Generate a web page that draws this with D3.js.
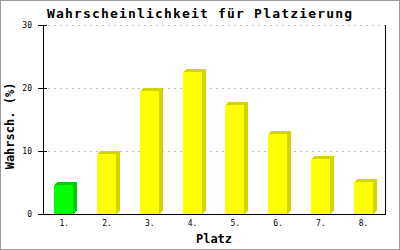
<!DOCTYPE html>
<html>
<head>
<meta charset="utf-8">
<script src="https://cdn.jsdelivr.net/npm/d3@7"></script>
<style>
  body { margin: 0; background: #fff; }
  text { font-family: "DejaVu Sans Mono", "Liberation Mono", monospace; }
</style>
</head>
<body>
<script>
var places = ["1.", "2.", "3.", "4.", "5.", "6.", "7.", "8."],
    chances = [4.6, 9.5, 19.5, 22.5, 17.3, 12.7, 8.7, 5.1],
    yTicks = [0, 10, 20, 30];

var width = 400, height = 250,
    plotLeft = 43, plotRight = 385, plotTop = 25, plotBottom = 214,
    barWidth = 19, depthX = 4, depthY = 3;

var svg = d3.select("body").append("svg")
    .attr("width", width)
    .attr("height", height);

// outer frame
svg.append("rect")
    .attr("x", 0.5).attr("y", 0.5)
    .attr("width", width - 1).attr("height", height - 1)
    .attr("fill", "#fff")
    .attr("stroke", "#999");

var x = d3.scaleBand().domain(places).range([plotLeft, plotRight]);
var y = d3.scaleLinear().domain([0, 30]).range([plotBottom, plotTop]);

// grid lines
svg.selectAll(".grid")
    .data(yTicks.filter(function (d) { return d > 0; }))
    .enter().append("line")
    .attr("x1", plotLeft + 5).attr("x2", plotRight)
    .attr("y1", function (d) { return Math.round(y(d)) + 0.5; })
    .attr("y2", function (d) { return Math.round(y(d)) + 0.5; })
    .attr("stroke", "#bbb")
    .attr("stroke-dasharray", "2,4");

// bars (side, top, front)
var bars = svg.selectAll(".bar")
    .data(chances)
    .enter().append("g")
    .attr("class", "bar")
    .attr("shape-rendering", "crispEdges");

function front(d, i) { return Math.round(x(places[i]) + x.bandwidth() / 2 - 10); }
function dark(d, i) { return i === 0 ? "#00cc00" : "#d4d400"; }

bars.append("polygon")
    .attr("points", function (d, i) {
        var x0 = front(d, i) + barWidth, y0 = Math.round(y(d));
        return [[x0, y0], [x0 + depthX, y0 - depthY], [x0 + depthX, plotBottom - depthY], [x0, plotBottom]].join(" ");
    })
    .attr("fill", dark);

bars.append("polygon")
    .attr("points", function (d, i) {
        var x0 = front(d, i), y0 = Math.round(y(d));
        return [[x0, y0], [x0 + depthX, y0 - depthY], [x0 + barWidth + depthX, y0 - depthY], [x0 + barWidth, y0]].join(" ");
    })
    .attr("fill", dark);

bars.append("rect")
    .attr("x", function (d, i) { return front(d, i); })
    .attr("y", function (d) { return Math.round(y(d)); })
    .attr("width", barWidth)
    .attr("height", function (d) { return plotBottom - Math.round(y(d)); })
    .attr("fill", function (d, i) { return i === 0 ? "#00ff00" : "#ffff00"; });

// axis lines
svg.append("line")
    .attr("x1", plotLeft + 0.5).attr("x2", plotLeft + 0.5)
    .attr("y1", plotTop).attr("y2", plotBottom + 1)
    .attr("stroke", "#000");
svg.append("line")
    .attr("x1", plotRight + 0.5).attr("x2", plotRight + 0.5)
    .attr("y1", plotTop).attr("y2", plotBottom + 1)
    .attr("stroke", "#000");
svg.append("line")
    .attr("x1", plotLeft - 5).attr("x2", plotRight + 1)
    .attr("y1", plotBottom + 0.5).attr("y2", plotBottom + 0.5)
    .attr("stroke", "#000");

// y ticks
svg.selectAll(".ytick")
    .data(yTicks)
    .enter().append("line")
    .attr("x1", plotLeft - 5).attr("x2", plotLeft + 4)
    .attr("y1", function (d) { return Math.round(y(d)) + 0.5; })
    .attr("y2", function (d) { return Math.round(y(d)) + 0.5; })
    .attr("stroke", "#000");

svg.selectAll(".ylabel")
    .data(yTicks)
    .enter().append("text")
    .attr("x", 32)
    .attr("y", function (d) { return y(d) + 3; })
    .attr("text-anchor", "end")
    .style("font-size", "8px")
    .text(function (d) { return d; });

// x labels
svg.selectAll(".xlabel")
    .data(places)
    .enter().append("text")
    .attr("x", function (d) { return x(d) + x.bandwidth() / 2; })
    .attr("y", 226)
    .attr("text-anchor", "middle")
    .style("font-size", "8px")
    .text(function (d) { return d; });

// titles
svg.append("text")
    .attr("x", 47).attr("y", 18)
    .attr("textLength", 305)
    .attr("lengthAdjust", "spacing")
    .style("font-size", "13px")
    .style("font-weight", "bold")
    .text("Wahrscheinlichkeit für Platzierung");

svg.append("text")
    .attr("x", (plotLeft + plotRight) / 2).attr("y", 243)
    .attr("text-anchor", "middle")
    .style("font-size", "12px")
    .style("font-weight", "bold")
    .text("Platz");

svg.append("text")
    .attr("transform", "translate(14,126) rotate(-90)")
    .attr("text-anchor", "middle")
    .style("font-size", "12px")
    .style("font-weight", "bold")
    .text("Wahrsch. (%)");
</script>
</body>
</html>
